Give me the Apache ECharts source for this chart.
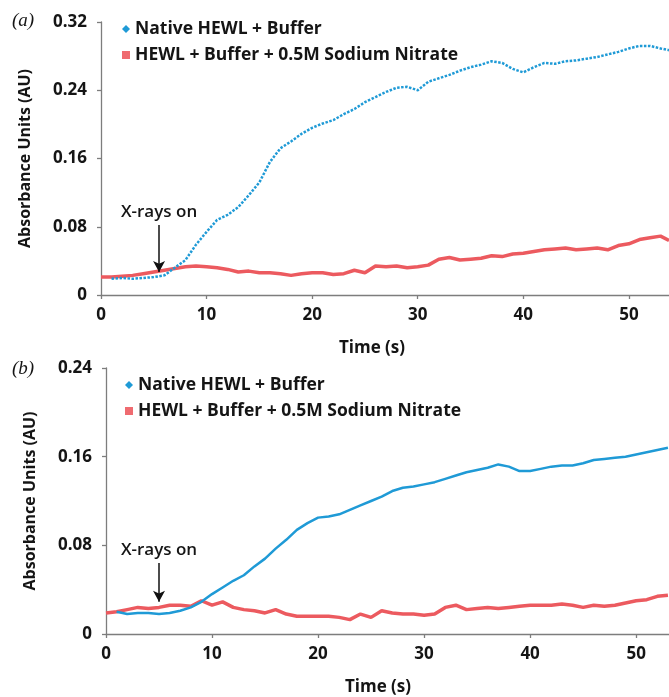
<!DOCTYPE html>
<html><head><meta charset="utf-8">
<script src="https://cdn.jsdelivr.net/npm/echarts@6/dist/echarts.min.js"></script>
<style>html,body{margin:0;padding:0;background:#fff}#c{width:669px;height:697px}</style>
</head><body><div id="c"></div>
<script>
// ---- data ----
const seriesNames = ['Native HEWL + Buffer', 'HEWL + Buffer + 0.5M Sodium Nitrate'];
const xTicks = [0, 10, 20, 30, 40, 50];
const yTicksA = [0, 0.08, 0.16, 0.24, 0.32];
const yTicksB = [0, 0.08, 0.16, 0.24];

const timeA = [0,1,2,3,4,5,6,7,8,9,10,11,12,13,14,15,16,17,18,19,20,21,22,23,24,25,26,27,28,29,30,31,32,33,34,35,36,37,38,39,40,41,42,43,44,45,46,47,48,49,50,51,52,53,53.8];
const nativeA = [null,0.019,0.020,0.019,0.020,0.021,0.023,0.032,0.041,0.059,
  0.074,0.088,0.094,0.103,0.117,0.132,0.156,0.172,0.180,0.189,
  0.196,0.201,0.205,0.212,0.218,0.226,0.232,0.238,0.243,0.244,
  0.240,0.250,0.254,0.258,0.263,0.267,0.270,0.274,0.272,0.265,
  0.261,0.267,0.272,0.271,0.274,0.275,0.277,0.279,0.282,0.285,
  0.289,0.292,0.292,0.289,0.287];
const nitrateA = [0.021,0.021,0.022,0.023,0.025,0.027,0.029,0.031,0.033,0.034,
  0.033,0.032,0.030,0.027,0.028,0.026,0.026,0.025,0.023,0.025,
  0.026,0.026,0.024,0.025,0.029,0.026,0.034,0.033,0.034,0.032,
  0.033,0.035,0.042,0.044,0.041,0.042,0.043,0.046,0.045,0.048,
  0.049,0.051,0.053,0.054,0.055,0.053,0.054,0.055,0.053,0.058,
  0.060,0.065,0.067,0.069,0.064];

const timeB = [0,1,2,3,4,5,6,7,8,9,10,11,12,13,14,15,16,17,18,19,20,21,22,23,24,25,26,27,28,29,30,31,32,33,34,35,36,37,38,39,40,41,42,43,44,45,46,47,48,49,50,51,52,53];
const nativeB = [null,0.020,0.018,0.019,0.019,0.018,0.019,0.021,0.024,0.029,
  0.036,0.042,0.048,0.053,0.061,0.068,0.077,0.085,0.094,0.100,
  0.105,0.106,0.108,0.112,0.116,0.120,0.124,0.129,0.132,0.133,
  0.135,0.137,0.140,0.143,0.146,0.148,0.150,0.153,0.151,0.147,
  0.147,0.149,0.151,0.152,0.152,0.154,0.157,0.158,0.159,0.160,
  0.162,0.164,0.166,0.168];
const nitrateB = [0.019,0.020,0.022,0.024,0.023,0.024,0.026,0.026,0.025,0.030,
  0.026,0.029,0.024,0.022,0.021,0.019,0.022,0.018,0.016,0.016,
  0.016,0.016,0.015,0.013,0.018,0.015,0.021,0.019,0.018,0.018,
  0.017,0.018,0.024,0.026,0.022,0.023,0.024,0.023,0.024,0.025,
  0.026,0.026,0.026,0.027,0.026,0.024,0.026,0.025,0.026,0.028,
  0.030,0.031,0.034,0.035];

// annotation: [time, arrow start value, arrow end value]
const arrowA = [5.5, 0.082, 0.027];
const arrowB = [5.0, 0.064, 0.029];

// ---- styling ----
const BLUE = '#1f9ad6';
const RED = '#ec5a5f';
const RED_LEG = '#ef6b70';
const FONT = '"Open Sans"';
const TXT = '#151515';
const AX = '#7d7d7d';

const pairs = (t, v) => t.map((x, i) => [x, v[i]]).filter(p => p[1] != null);

function xAxis(idx, max, padRight) {
  return {
    type: 'value', gridIndex: idx, min: 0, max: max, interval: 10,
    axisLine: {show: true, onZero: false, lineStyle: {color: AX, width: 1.3}},
    axisTick: {show: true, length: 4, lineStyle: {color: AX, width: 1.3}},
    splitLine: {show: false},
    axisLabel: {showMaxLabel: false, margin: 12, fontFamily: FONT, fontWeight: 'bold', fontSize: 17, color: TXT,
      formatter: v => xTicks.includes(v) ? String(v) : ''},
    name: 'Time (s)', nameLocation: 'middle', nameGap: 45,
    nameTextStyle: {fontFamily: FONT, fontWeight: 'bold', fontSize: 17, color: TXT, padding: [0, padRight, 0, 0]}
  };
}
function yAxis(idx, ticks) {
  return {
    type: 'value', gridIndex: idx, min: 0, max: ticks[ticks.length - 1], interval: ticks[1],
    axisLine: {show: true, lineStyle: {color: AX, width: 1.3}},
    axisTick: {show: true, length: 4, lineStyle: {color: AX, width: 1.3}},
    splitLine: {show: false},
    axisLabel: {margin: 14, fontFamily: FONT, fontWeight: 'bold', fontSize: 17, color: TXT},
    name: 'Absorbance Units (AU)', nameLocation: 'middle', nameGap: 68,
    nameTextStyle: {fontFamily: FONT, fontWeight: 'bold', fontSize: 16, color: TXT}
  };
}
function legend(left, top) {
  return {
    left: left, top: top, orient: 'vertical', itemWidth: 8, itemHeight: 8, itemGap: 8,
    selectedMode: false,
    textStyle: {fontFamily: FONT, fontWeight: 'bold', fontSize: 17.5, color: TXT, lineHeight: 18},
    data: [
      {name: seriesNames[0], icon: 'diamond', itemStyle: {color: BLUE}},
      {name: seriesNames[1], icon: 'rect', itemStyle: {color: RED_LEG}}
    ]
  };
}
function arrowMark(a) {
  return {
    silent: true, symbol: ['none', 'arrow'], symbolSize: [9, 11], animation: false,
    lineStyle: {color: '#111', width: 1.5, type: 'solid'},
    label: {show: true, position: 'start', formatter: 'X-rays on', distance: 4,
      fontFamily: FONT, fontWeight: 600, fontSize: 17, color: TXT},
    data: [[{coord: [a[0], a[1]]}, {coord: [a[0], a[2]]}]]
  };
}

const chart = echarts.init(document.getElementById('c'), null, {renderer: 'canvas'});
chart.setOption({
  animation: false,
  backgroundColor: '#fff',
  grid: [
    {left: 101, top: 22, right: 0, height: 273},
    {left: 106, top: 368, right: 0, height: 275}
  ],
  xAxis: [xAxis(0, 53.8, 26), xAxis(1, 53.1, 19)],
  yAxis: [yAxis(0, yTicksA), yAxis(1, yTicksB)],
  legend: [legend(117, 15), legend(120, 371)],
  graphic: [
    {type: 'text', left: 12, top: 11, style: {text: '(a)', font: 'italic 19px "Liberation Serif"', fill: TXT}},
    {type: 'text', left: 12, top: 359, style: {text: '(b)', font: 'italic 19px "Liberation Serif"', fill: TXT}}
  ],
  series: [
    {name: seriesNames[1], type: 'line', xAxisIndex: 0, yAxisIndex: 0, data: pairs(timeA, nitrateA),
      symbol: 'none', lineStyle: {color: RED, width: 3.5}, itemStyle: {color: RED}, markLine: arrowMark(arrowA)},
    {name: seriesNames[0], type: 'line', xAxisIndex: 0, yAxisIndex: 0, data: pairs(timeA, nativeA),
      symbol: 'none', lineStyle: {color: BLUE, width: 2.5, type: [2.5, 1.5]}, itemStyle: {color: BLUE}},
    {name: seriesNames[1], type: 'line', xAxisIndex: 1, yAxisIndex: 1, data: pairs(timeB, nitrateB),
      symbol: 'none', lineStyle: {color: RED, width: 3.5}, itemStyle: {color: RED}, markLine: arrowMark(arrowB)},
    {name: seriesNames[0], type: 'line', xAxisIndex: 1, yAxisIndex: 1, data: pairs(timeB, nativeB),
      symbol: 'none', lineStyle: {color: BLUE, width: 2.5}, itemStyle: {color: BLUE}}
  ]
});
</script></body></html>
